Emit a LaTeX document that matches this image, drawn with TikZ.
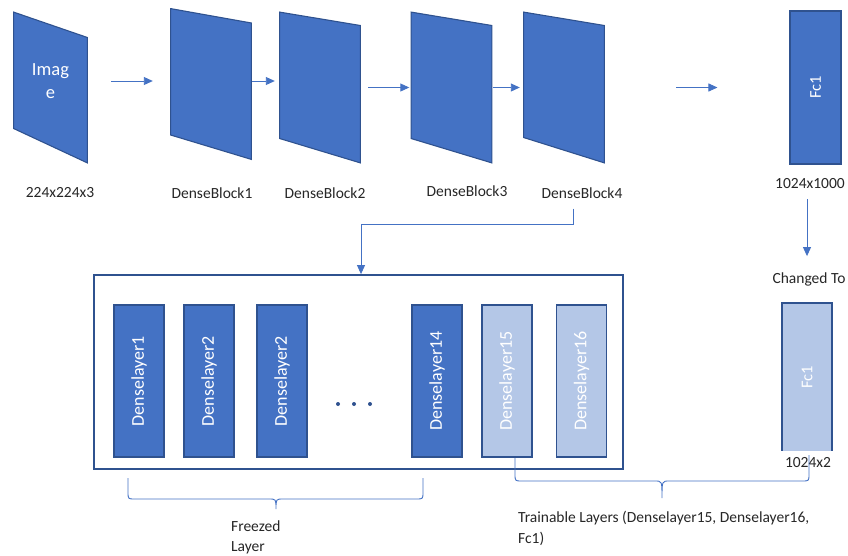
\documentclass[tikz,border=0pt]{standalone}
\usepackage{fontspec}
\setmainfont{Carlito}
\usepackage{tikz}
\usetikzlibrary{arrows.meta}
\definecolor{blockblue}{HTML}{4472C4}
\definecolor{edgeblue}{HTML}{2F528F}
\definecolor{paleblue}{HTML}{B4C7E7}
\tikzset{
  slab/.style n args={3}{minimum width=#1, minimum height=152pt, inner sep=0pt,
    path picture={\filldraw[fill=blockblue, draw=edgeblue, line width=1.1pt]
      ([xshift=0.6pt,yshift=-0.6pt]path picture bounding box.north west)
      -- ([xshift=-0.6pt,yshift=-#2]path picture bounding box.north east)
      -- ([xshift=-0.6pt,yshift=0.6pt]path picture bounding box.south east)
      -- ([xshift=0.6pt,yshift=#3]path picture bounding box.south west) -- cycle;}},
  layer/.style={draw=edgeblue, fill=blockblue, line width=1.1pt, rotate=90,
    minimum width=152pt, minimum height=50pt, inner sep=0pt, text=white,
    font=\fontsize{18}{20}\selectfont},
  trainable/.style={layer, fill=paleblue},
  fcbox/.style={draw=edgeblue, fill=blockblue, line width=1.1pt, rotate=90,
    minimum width=153pt, minimum height=51pt, inner sep=0pt, text=white,
    font=\fontsize{16.5}{18}\selectfont},
  lbl/.style={font=\fontsize{15.5}{20}\selectfont, inner sep=0pt, text=black!85},
  arr/.style={draw=blockblue, line width=0.9pt, -{Triangle[length=9pt,width=8pt]}},
  link/.style={draw=blockblue, line width=0.9pt},
}
\begin{document}
\begin{tikzpicture}[x=1pt, y=-1pt]
  \useasboundingbox (0,0) rectangle (848,555);
  % top row
  \node[slab={75pt}{26pt}{35pt},
    label={[text=white, yshift=6pt, align=center, font=\fontsize{18.5}{23}\selectfont]center:Imag\\e}]
    (img) at (50.5,87.5) {};
  \node[slab={82pt}{15pt}{25pt}] (db1) at (211,84) {};
  \node[slab={82pt}{14pt}{25pt}] (db2) at (320,87.5) {};
  \node[slab={82pt}{14pt}{25pt}] (db3) at (451.5,87.5) {};
  \node[slab={82pt}{14pt}{26pt}] (db4) at (564,87.5) {};
  \node[fcbox] (fc1) at (815.5,87.5) {Fc1};
  \draw[arr] ([xshift=23pt,yshift=6.5pt]img.east) -- ([xshift=-17pt,yshift=3pt]db1.west);
  \draw[arr] ([yshift=3pt]db1.east) -- ([xshift=-4pt,yshift=6.5pt]db2.west);
  \draw[arr] ([xshift=7pt]db2.east) -- ([xshift=-1pt]db3.west);
  \draw[arr] (db3.east) -- ([xshift=-3pt]db4.west);
  \draw[arr] ([xshift=71pt]db4.east) -- ([xshift=-72pt]fc1.north);
  \node[lbl] (limg) at (60,193) {224x224x3};
  \node[lbl] (lb1) at (212,193) {DenseBlock1};
  \node[lbl] (lb2) at (325,193) {DenseBlock2};
  \node[lbl] (lb3) at (467,191.5) {DenseBlock3};
  \node[lbl] (lb4) at (582,193) {DenseBlock4};
  \node[lbl] (lfc) at (810,184) {1024x1000};
  \node[lbl] (chg) at (809,279) {Changed To};
  \draw[arr] ([xshift=-3pt,yshift=-10pt]lfc.south) -- ([xshift=-2pt,yshift=16pt]chg.north);
  % dense layers
  \node[draw=edgeblue, line width=1.8pt, minimum width=529pt, minimum height=194pt]
    (frozen) at (358.5,372) {};
  \draw[arr] ([xshift=-9pt,yshift=-10pt]lb4.south) -- ++(0,16) -| ([xshift=2.5pt]frozen.north);
  \node[layer] (l1) at (139,381) {Denselayer1};
  \node[layer] (l2) at (209,381) {Denselayer2};
  \node[layer] (l3) at (282,381) {Denselayer2};
  \node[layer] (l14) at (437,381) {Denselayer14};
  \node[trainable] (l15) at (507,381) {Denselayer15};
  \node[trainable] (l16) at (581.5,381) {Denselayer16};
  \foreach \x in {338,354,370}
    \fill[edgeblue] (\x,404) circle (2pt);
  \node[fcbox, fill=paleblue, minimum width=149pt, minimum height=50pt] (fcnew) at (807,377.5) {Fc1};
  \node[lbl, fill=white, minimum width=54pt, minimum height=24pt] (lfcn) at (808,463) {1024x2};
  % braces
  \draw[link] (128,478) -- (128,492) .. controls (128,499) .. (135,499) -- (269,499)
    .. controls (276,499) .. (276,509) .. controls (276,499) .. (283,499) -- (416,499)
    .. controls (423,499) .. (423,492) -- (423,478);
  \draw[link] (515,458) -- (515,474) .. controls (515,481) .. (522,481) -- (655,481)
    .. controls (662,481) .. (662,498) .. controls (662,481) .. (669,481) -- (802,481)
    .. controls (809,481) .. (809,474) -- (809,455);
  \node[lbl, anchor=north west, align=left, font=\fontsize{15.5}{19.5}\selectfont] (frz) at (231,521) {Freezed\\Layer};
  \node[lbl, anchor=north west, align=left, font=\fontsize{15.5}{21}\selectfont] (trn) at (518,511)
    {Trainable Layers (Denselayer15, Denselayer16,\\Fc1)};
\end{tikzpicture}
\end{document}
